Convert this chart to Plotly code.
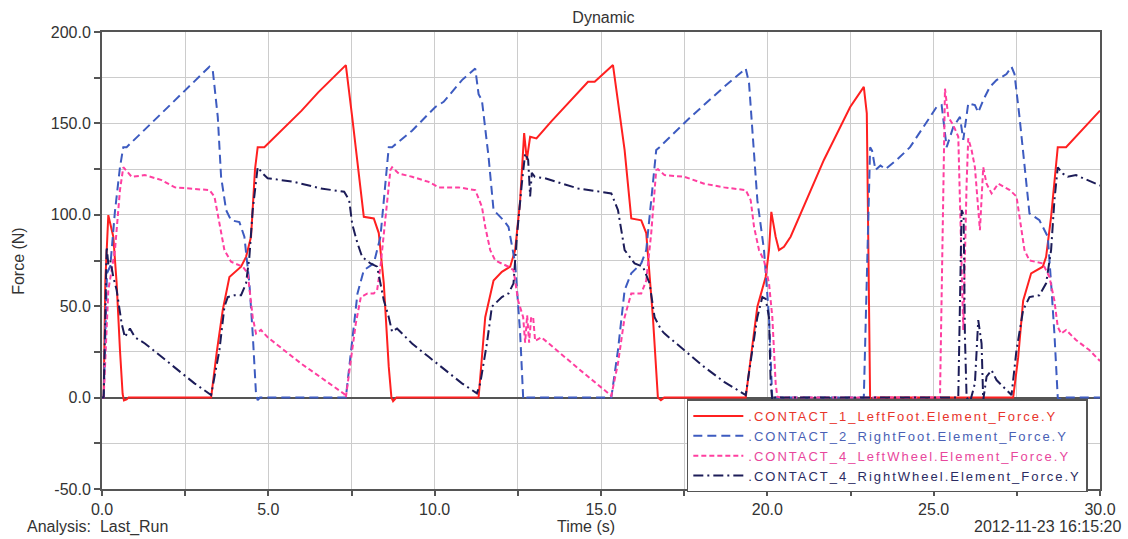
import plotly.graph_objects as go

# ---------------- data ----------------
left_foot_t = [0, 0.05, 0.1, 0.19, 0.34, 0.44, 0.54, 0.62, 0.66, 0.74, 0.8,
               3.28, 3.45, 3.63, 3.83, 4.18, 4.33, 4.48, 4.6, 4.68, 4.88, 5.5, 6.0, 6.5, 7.0, 7.33,
               7.52, 7.78, 7.87, 8.17, 8.32, 8.47, 8.62, 8.7, 8.75, 8.85, 8.95,
               11.32, 11.52, 11.77, 12.02, 12.27, 12.42, 12.57, 12.69, 12.77, 12.87, 13.06, 13.5,
               14.0, 14.4, 14.61, 14.81, 15.0, 15.36, 15.71, 15.91, 16.21, 16.36, 16.56, 16.71,
               16.8, 16.9,
               19.35, 19.7, 19.95, 20.05, 20.12, 20.25, 20.35, 20.5, 20.7, 21.7, 22.49, 22.9,
               22.99, 23.09, 23.15, 23.25,
               27.39, 27.54, 27.69, 27.93, 28.28, 28.38, 28.53, 28.73, 28.98, 29.5, 30.0]
left_foot_f = [0, 0, 64, 99.8, 88, 62.6, 26, 2, -1.5, -1, 0,
               0, 25, 47.9, 66, 71.6, 77, 88, 125, 137, 137, 148, 157, 167, 176, 181.9,
               153.6, 113.5, 98.9, 98, 90, 62.6, 16.8, 0, -2, 0, 0,
               0, 44, 64, 68.8, 71.6, 80.7, 108, 144.7, 130, 142.7, 141.8, 151,
               161, 169, 172.8, 172.8, 176, 181.9, 135.4, 98, 97, 90, 44, 0,
               -1.4, 0,
               0, 49.7, 66, 80.7, 101.6, 88, 80.7, 82.5, 88, 130, 159, 170,
               155.5, -1.4, -3, 0,
               0, 22, 53, 68, 71.6, 77, 98.9, 137, 137, 147, 157]

right_foot_t = [0, 0.05, 0.15, 0.25, 0.39, 0.54, 0.64, 0.74, 1.5, 2.5, 3.23, 3.33, 3.48, 3.58,
                3.73, 3.88, 4.13, 4.28, 4.43, 4.53, 4.63, 4.68, 4.75,
                7.33, 7.48, 7.68, 7.87, 8.17, 8.37, 8.52, 8.62, 8.72, 9.32, 10.02, 10.27, 10.82,
                11.22, 11.32, 11.42, 11.62, 11.77, 12.07, 12.22, 12.42, 12.57, 12.66, 12.7, 12.78,
                15.31, 15.51, 15.71, 15.91, 16.21, 16.36, 16.51, 16.66, 16.76, 17.7, 18.7,
                19.35, 19.45, 19.7, 19.9, 20.05, 20.15, 20.22,
                22.9, 22.99, 23.09, 23.15, 23.25, 23.4, 23.55, 23.89, 24.29, 24.69, 25.09, 25.24,
                25.39, 25.59, 25.79, 25.89, 26.04, 26.24, 26.34, 26.49, 26.69, 26.89, 27.19, 27.34,
                27.43, 27.58, 27.73, 27.88, 28.18, 28.43, 28.53, 28.63, 28.73, 28.78, 28.85, 30.0]
right_foot_f = [0, 0, 68, 72, 102, 126, 137, 137, 150.4, 168, 181, 179, 153.6, 120.8,
                102.6, 97, 96, 88, 62.6, 35, 2, -1.4, 0,
                0, 26, 57, 69.7, 73.4, 88, 117, 137, 137, 146, 159, 161.8, 173.7,
                180, 166, 162.7, 131.7, 102.6, 97, 93.4, 73.4, 35, 0, -1.4, 0,
                0, 26, 58.8, 68, 73.4, 80.7, 108, 135.4, 137, 153.6, 170,
                180, 172, 108, 80.7, 44, -1.4, 0,
                0, 62.6, 137, 135, 124.5, 127, 125, 130, 137, 148, 159, 160,
                137, 148, 153.6, 141, 161, 160, 156, 162.7, 170, 173.7, 177, 181,
                177, 153.6, 126, 100.8, 97, 88, 62.6, 35, 0, -1.4, 0, 0]

left_wheel_t = [0, 0.05, 0.19, 0.39, 0.54, 0.64, 0.74, 0.89, 1.29, 1.79, 2.19, 2.69, 3.23, 3.38,
                3.53, 3.68, 3.88, 4.23, 4.38, 4.53, 4.63, 4.78, 4.98, 5.98, 7.28, 7.33,
                7.48, 7.63, 7.78, 7.98, 8.17, 8.27, 8.37, 8.52, 8.67, 8.72, 8.92, 9.32, 9.82,
                10.12, 10.72, 11.22, 11.42, 11.52, 11.67, 11.82, 12.22, 12.37, 12.51, 12.66,
                12.72, 12.78, 12.84, 12.9, 12.96, 13.02, 13.21, 14.31, 15.31,
                15.51, 15.71, 15.91, 16.21, 16.36, 16.51, 16.66, 16.71, 16.91, 17.51, 18.1, 18.7,
                19.35, 19.5, 19.6, 19.75, 19.9, 20.05, 20.15, 20.25, 20.3, 20.4,
                25.19, 25.34, 25.44, 25.59, 25.74, 25.84, 25.89, 25.99, 26.04, 26.14, 26.24,
                26.39, 26.49, 26.59, 26.74, 26.94, 27.29, 27.49, 27.58, 27.73, 27.88, 28.28,
                28.48, 28.63, 28.73, 28.83, 28.98, 29.28, 29.68, 30.0]
left_wheel_f = [0, 0, 58.8, 80.7, 113.5, 126, 124, 120.8, 121.7, 119, 115, 114.4, 113.5, 110,
                95, 80.7, 74.3, 71.6, 68, 44, 35, 37, 33, 18.7, 2, 0,
                20.5, 40.6, 55, 57, 57, 58.8, 71.6, 99, 124.5, 126, 122.6, 120.8, 118,
                115, 115, 113.5, 104.4, 93.4, 80.7, 75, 71.6, 69.7, 53, 44,
                30, 45, 30, 44, 44, 31, 33, 16, 1,
                18.7, 44, 57, 57, 64, 90, 124.5, 125, 121.7, 120.8, 117, 115,
                113.5, 108, 93.4, 80.7, 75, 62.5, 44, 7.8, 0.5, 0,
                0, 169, 153.6, 149, 142.7, 80.7, 37, 117, 141.8, 135.4, 126,
                91.6, 126, 117, 111.7, 117, 113.5, 110, 99, 80.7, 75, 73.4,
                66, 53, 38.7, 35, 37, 31.5, 26, 20]

right_wheel_t = [0, 0.05, 0.14, 0.19, 0.25, 0.34, 0.44, 0.59, 0.69, 0.84, 0.99, 1.29, 1.79,
                 2.28, 2.78, 3.28, 3.53, 3.68, 3.78, 3.98, 4.18, 4.33, 4.43, 4.53, 4.68, 4.83,
                 4.98, 5.78, 6.58, 7.28, 7.43, 7.52, 7.68, 7.82, 8.07, 8.27, 8.47, 8.62, 8.72,
                 8.87, 9.32, 9.82, 10.32, 10.82, 11.27, 11.37, 11.57, 11.72, 12.02, 12.22,
                 12.37, 12.47, 12.62, 12.72, 12.81, 12.87, 12.92, 13.01, 13.31, 13.81, 14.31,
                 15.31, 15.51, 15.71, 16.01, 16.26, 16.46, 16.61, 16.81, 16.91, 17.51, 18.1,
                 18.7, 19.35, 19.55, 19.7, 19.85, 19.95, 20.05, 20.1, 20.15, 20.2,
                 25.74, 25.84, 25.9, 25.94, 25.99, 26.1, 26.24, 26.34, 26.44, 26.49, 26.59,
                 26.74, 26.89, 27.09, 27.34, 27.49, 27.69, 27.88, 28.18, 28.38, 28.53, 28.63,
                 28.73, 28.88, 29.03, 29.28, 30.0]
right_wheel_f = [0, 0, 82.5, 73, 75, 66, 58.8, 40.6, 33, 37.8, 33, 29.6, 22.3,
                 15, 7.8, 1.4, 26, 49.7, 55, 56, 56, 62.5, 77, 102.6, 126, 122.6,
                 120, 118, 114.4, 112.6, 108, 95, 84.4, 77, 73.4, 71.6, 53.3, 44, 36,
                 37.8, 29.6, 22.3, 15, 7.8, 2.3, 7.8, 29.6, 49.7, 55, 57,
                 62.5, 88, 117, 133.6, 130, 110, 123, 120.8, 120, 117, 114.4,
                 111.7, 102.6, 80.7, 73.4, 71.6, 62.5, 44, 37, 35, 26, 16.8,
                 8.6, 1.4, 26, 44, 55, 54, 44, 7.8, -1.5, 0,
                 0, 102.6, 100, 33, 0, -2, 7.8, 42.4, 29.6, -1.4, 11.4,
                 15, 9.6, 5.9, 1.4, 26, 47.9, 55, 56, 62.5, 80.7, 108,
                 126, 122.6, 120.8, 121.7, 116]

series_names = [".CONTACT_1_LeftFoot.Element_Force.Y",
                ".CONTACT_2_RightFoot.Element_Force.Y",
                ".CONTACT_4_LeftWheel.Element_Force.Y",
                ".CONTACT_4_RightWheel.Element_Force.Y"]

x_tick_vals = [0, 2.5, 5, 7.5, 10, 12.5, 15, 17.5, 20, 22.5, 25, 27.5, 30]
x_tick_text = ["0.0", "", "5.0", "", "10.0", "", "15.0", "", "20.0", "", "25.0", "", "30.0"]
y_tick_vals = [-50, -25, 0, 25, 50, 75, 100, 125, 150, 175, 200]
y_tick_text = ["-50.0", "", "0.0", "", "50.0", "", "100.0", "", "150.0", "", "200.0"]

# ---------------- styling ----------------
line_colors = ["#FF2020", "#3D5BC0", "#FF3FA0", "#1C1C58"]
text_colors = ["#E8352C", "#4A5FB5", "#E8479C", "#2B2B62"]
dashes = ["solid", "9px,5px", "5px,3px", "10px,4px,2px,4px"]
FONT = "Liberation Sans, Arial, sans-serif"

fig = go.Figure()
xs = [left_foot_t, right_foot_t, left_wheel_t, right_wheel_t]
ys = [left_foot_f, right_foot_f, left_wheel_f, right_wheel_f]
for i in range(4):
    fig.add_trace(go.Scatter(
        x=xs[i], y=ys[i], mode="lines",
        name=f'<span style="color:{text_colors[i]};letter-spacing:2px">{series_names[i]}</span>',
        line=dict(color=line_colors[i], width=2, dash=dashes[i]),
    ))

fig.update_layout(
    width=1128, height=539,
    margin=dict(l=102, r=24, t=32, b=50),
    paper_bgcolor="white", plot_bgcolor="white",
    font=dict(family=FONT, size=16, color="#333333"),
    title=dict(text="Dynamic", x=0.535, xref="container", y=0.968, yref="container",
               xanchor="center", yanchor="middle", font=dict(size=16, color="#333333")),
    showlegend=True,
    legend=dict(x=0.586, y=0.196, xanchor="left", yanchor="top",
                bgcolor="white", bordercolor="#555555", borderwidth=1.5,
                font=dict(size=13), itemwidth=50, tracegroupgap=0),
    xaxis=dict(range=[0, 30], tickmode="array", tickvals=x_tick_vals, ticktext=x_tick_text,
               showgrid=True, gridcolor="#CCCCCC", gridwidth=1,
               showline=True, linecolor="#555555", linewidth=2, mirror=True,
               ticks="outside", ticklen=5, tickcolor="#555555", tickwidth=1.5,
               zeroline=False),
    yaxis=dict(range=[-50, 200], tickmode="array", tickvals=y_tick_vals, ticktext=y_tick_text,
               showgrid=True, gridcolor="#CCCCCC", gridwidth=1,
               showline=True, linecolor="#555555", linewidth=2, mirror=True,
               ticks="outside", ticklen=6, tickcolor="#555555", tickwidth=1.5,
               zeroline=True, zerolinecolor="#555555", zerolinewidth=2),
    annotations=[
        dict(text="Force (N)", textangle=-90, xref="paper", yref="paper",
             x=-0.0838, y=0.5, xanchor="center", yanchor="middle", showarrow=False,
             font=dict(size=16, color="#333333")),
        dict(text="Time (s)", xref="paper", yref="paper", x=0.485, y=-0.083,
             xanchor="center", yanchor="middle", showarrow=False,
             font=dict(size=16, color="#333333")),
        dict(text="Analysis:\u00a0 Last_Run", xref="paper", yref="paper", x=-0.0768, y=-0.083,
             xanchor="left", yanchor="middle", showarrow=False,
             font=dict(size=16, color="#333333")),
        dict(text="2012-11-23 16:15:20", xref="paper", yref="paper", x=1.023, y=-0.083,
             xanchor="right", yanchor="middle", showarrow=False,
             font=dict(size=16, color="#333333")),
    ],
)

fig.write_html("out.html", config={"displayModeBar": False},
               post_script="document.body.style.margin='0';")
